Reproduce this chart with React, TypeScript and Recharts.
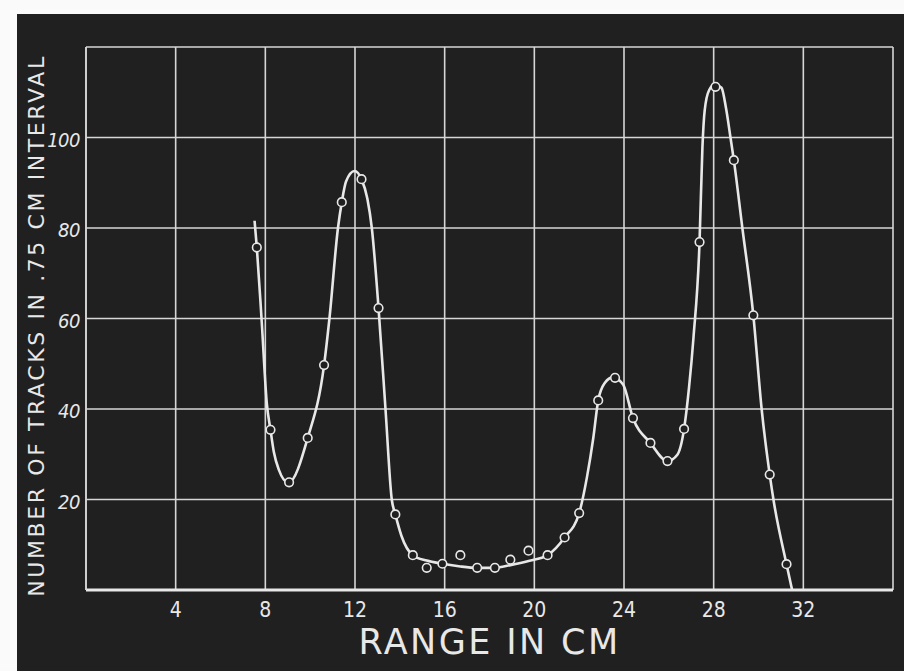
import { ComposedChart, Line, Scatter, XAxis, YAxis, CartesianGrid } from "recharts";

// measured points (range in cm, tracks per .75 cm interval)
const rangeCm = [
  7.62, 8.23, 9.06, 9.89, 10.62, 11.41, 12.29, 13.05, 13.8, 14.58, 15.2, 15.9, 16.7, 17.45, 18.24, 18.93,
  19.74, 20.59, 21.35, 22.0, 22.85, 23.6, 24.4, 25.18, 25.94, 26.68, 27.37, 28.08, 28.9, 29.77, 30.5, 31.25,
];
const tracks = [
  75.7, 35.4, 23.8, 33.6, 49.7, 85.7, 90.8, 62.3, 16.7, 7.7, 4.9, 5.8, 7.7, 4.9, 4.9, 6.7,
  8.7, 7.7, 11.6, 17.0, 41.9, 46.9, 38.0, 32.5, 28.5, 35.6, 76.9, 111.2, 95.0, 60.7, 25.5, 5.7,
];

// hand drawn smooth curve
const curveRange = [
  7.52, 7.62, 7.83, 8.07, 8.23, 8.38, 8.6, 9.03, 9.89, 10.62, 10.86, 11.24, 11.41, 11.6, 11.98, 12.29, 12.55,
  12.75, 13.05, 13.36, 13.64, 13.8, 14.07, 14.58, 15.2, 15.9, 16.7, 17.45, 18.24, 18.93, 19.74, 20.59,
  21.35, 22.0, 22.35, 22.63, 22.85, 23.15, 23.5, 23.96, 24.4, 25.18, 25.94, 26.38, 26.68, 26.9,
  27.1, 27.37, 27.5, 27.6, 27.8, 28.05, 28.35, 28.55, 28.75, 28.9, 29.28, 29.77, 30.14, 30.5, 30.69, 31.25, 31.5,
];
const curveTracks = [
  81.6, 75.7, 60, 41, 35.4, 30.5, 26.6, 23.7, 33.6, 49.7, 60, 80, 85.7, 90.3, 92.6, 90.8, 86.5,
  80, 62.3, 40, 20, 16.7, 12.0, 7.7, 6.5, 5.8, 5.2, 4.9, 4.9, 5.5, 6.4, 7.7,
  11.6, 17.0, 25, 33.6, 41.9, 45.8, 47.0, 45.4, 38.0, 32.5, 28.5, 29.9, 35.6, 44.7,
  55.8, 76.9, 98, 106, 110.5, 111.7, 111, 106.5, 100, 95.0, 80, 60.7, 40, 25.5, 19.3, 5.7, 0,
];

const xTicks = [0, 4, 8, 12, 16, 20, 24, 28, 32, 36];
const yTicks = [0, 20, 40, 60, 80, 100, 120];

const points = rangeCm.map((x, i) => ({ x, y: tracks[i] }));
const curve = curveRange.map((x, i) => ({ x, y: curveTracks[i] }));

const ink = "#e8e8e8";
const board = "#202020";
const font = "'DejaVu Sans', sans-serif";
const narrow = "'DejaVu Sans Condensed', 'DejaVu Sans', sans-serif";

const XTick = (props: any) => {
  const { x, y, payload } = props;
  if (payload.value === 0 || payload.value === 36) return null;
  return (
    <text x={x} y={y} dy={12} textAnchor="middle" dominantBaseline="central" fill={ink} fontFamily={narrow} fontSize={21}>
      {payload.value}
    </text>
  );
};

const YTick = (props: any) => {
  const { x, y, payload } = props;
  if (payload.value === 0 || payload.value === 120) return null;
  return (
    <text x={x + 2} y={y} dy={2} textAnchor="end" dominantBaseline="central" fill={ink} fontFamily={narrow} fontSize={20} fontStyle="italic" letterSpacing={-0.5}>
      {payload.value}
    </text>
  );
};

const XLabel = (props: any) => {
  const { viewBox } = props;
  const cx = viewBox.x + viewBox.width / 2;
  return (
    <text x={cx} y={viewBox.y + 52} textAnchor="middle" dominantBaseline="central" fill={ink} fontFamily={font} fontSize={35} letterSpacing={2.4}>
      RANGE IN CM
    </text>
  );
};

const YLabel = (props: any) => {
  const { viewBox } = props;
  const cx = viewBox.x + 10;
  const cy = viewBox.y + viewBox.height / 2 + 7;
  return (
    <text
      x={cx}
      y={cy}
      transform={`rotate(-90 ${cx} ${cy})`}
      textAnchor="middle"
      dominantBaseline="central"
      fill={ink}
      fontFamily={font}
      fontSize={22}
      letterSpacing={2.6}
    >
      NUMBER OF TRACKS IN .75 CM INTERVAL
    </text>
  );
};

const Ring = (props: any) => {
  const { cx, cy } = props;
  return <circle cx={cx} cy={cy} r={4.3} fill={board} stroke={ink} strokeWidth={1.6} />;
};

export default function App() {
  return (
    <div style={{ position: "absolute", left: 0, top: 0, width: 904, height: 671, background: "#fafafa" }}>
      <div style={{ position: "absolute", left: 17, top: 14, width: 887, height: 657, background: board }} />
      <div style={{ position: "absolute", left: 0, top: 0 }}>
        <ComposedChart width={904} height={671} margin={{ top: 47, right: 11, bottom: 21, left: 26 }}>
          <CartesianGrid stroke="#d6d6d6" strokeWidth={1.6} />
          <XAxis
            type="number"
            dataKey="x"
            domain={[0, 36]}
            ticks={xTicks}
            height={60}
            tick={<XTick />}
            tickLine={false}
            axisLine={{ stroke: ink, strokeWidth: 3 }}
            label={{ content: XLabel }}
          />
          <YAxis
            type="number"
            dataKey="y"
            domain={[0, 120]}
            ticks={yTicks}
            width={60}
            tick={<YTick />}
            tickLine={false}
            axisLine={{ stroke: "#d6d6d6", strokeWidth: 1.6 }}
            label={{ content: YLabel }}
          />
          <Line
            data={curve}
            dataKey="y"
            type="monotone"
            stroke={ink}
            strokeWidth={2.6}
            dot={false}
            activeDot={false}
            isAnimationActive={false}
          />
          <Scatter data={points} dataKey="y" shape={<Ring />} isAnimationActive={false} />
        </ComposedChart>
      </div>
    </div>
  );
}
